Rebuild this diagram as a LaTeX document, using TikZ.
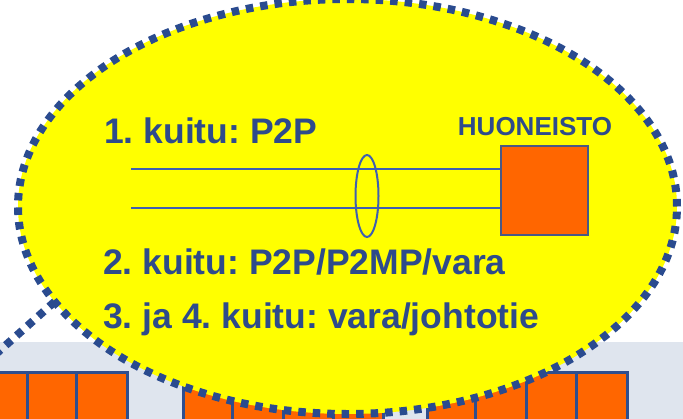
\documentclass[tikz,border=0pt]{standalone}
\usepackage{fontspec}
\setmainfont{Liberation Sans}
\usetikzlibrary{shapes.geometric}
\frenchspacing
\definecolor{txtblue}{HTML}{2E4B8B}
\definecolor{dotblue}{HTML}{2A4B8F}
\definecolor{fiberblue}{HTML}{3F5FB0}
\definecolor{boxedge}{HTML}{2F4E8E}
\definecolor{aptedge}{HTML}{4A5884}
\definecolor{orng}{HTML}{FF6600}
\definecolor{band}{HTML}{DFE5EE}
\definecolor{yel}{HTML}{FFFF00}
\tikzset{
  unitbox/.style={fill=orng, draw=boxedge, line width=3pt},
  dotline/.style={draw=dotblue, line width=8pt, dash pattern=on 7.5pt off 7pt},
  fiber/.style={draw=fiberblue, line width=1.8pt},
  bigtxt/.style={text=txtblue, inner sep=0pt, anchor=base west, font=\fontsize{35.5}{40}\selectfont\bfseries},
  smalltxt/.style={text=txtblue, inner sep=0pt, anchor=base, font=\fontsize{26}{30}\selectfont\bfseries}
}
\begin{document}
\begin{tikzpicture}[x=1pt,y=-1pt]
\useasboundingbox (0,0) rectangle (683,418);
\clip (0,0) rectangle (683,418);
% background band
\fill[band] (0,342) rectangle (683,430);
% flat boxes
\foreach \a/\b in {-23/27, 27/76, 76/127, 183/232, 232/283, 283/333, 333/383, 427/475, 475/526, 526/576, 576/627}
  \draw[unitbox] (\a,372) rectangle (\b,440);
% callout bubble
\node[ellipse, fill=yel, dotline, minimum width=659pt, minimum height=415pt, inner sep=0pt, outer sep=0pt] (bubble) at (347.5,206.5) {};
\coordinate (tip) at (-12,361);
\draw[dotline] (bubble.198.5) -- (tip);
% apartment box
\node[draw=aptedge, fill=orng, line width=2.5pt, minimum width=87pt, minimum height=89pt, inner sep=0pt] (apt) at (544.5,190.5) {};
\node[smalltxt] (aptlabel) at (535,135) {HUONEISTO};
% fibres
\coordinate (f1) at (131,169);
\coordinate (f2) at (131,208);
\draw[fiber] (f1) -- (f1 -| apt.west);
\draw[fiber] (f2) -- (f2 -| apt.west);
\node[ellipse, draw=fiberblue, line width=2pt, minimum width=23pt, minimum height=82pt, inner sep=0pt] (bundle) at (367,196) {};
% texts
\node[bigtxt] (t1) at (104,143) {1. kuitu: P2P};
\node[bigtxt] (t2) at (103,274) {2. kuitu: P2P/P2MP/vara};
\node[bigtxt] (t3) at (103,328) {3. ja 4. kuitu: vara/johtotie};
\end{tikzpicture}
\end{document}
